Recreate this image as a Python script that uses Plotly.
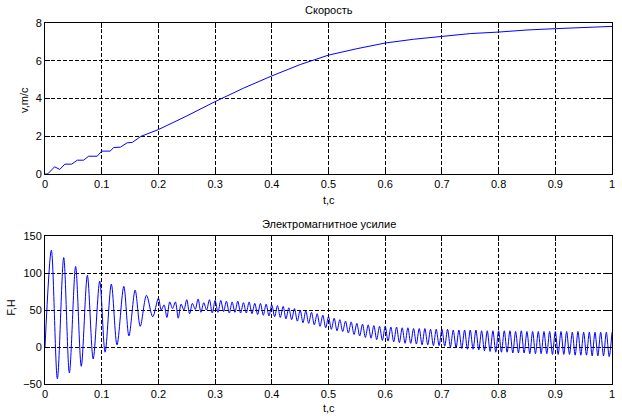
import numpy as np
import plotly.graph_objects as go

# ---------------- data ----------------
vel_t = [0, 0.005, 0.017, 0.026, 0.035, 0.047, 0.057, 0.068, 0.077, 0.092, 0.1, 0.115,
         0.121, 0.133, 0.145, 0.154, 0.169, 0.2, 0.25, 0.3, 0.35, 0.4, 0.45, 0.5, 0.55,
         0.6, 0.65, 0.7, 0.75, 0.8, 0.85, 0.9, 0.95, 1.0]
vel = [0, 0.02, 0.39, 0.25, 0.53, 0.53, 0.74, 0.74, 0.95, 0.95, 1.22, 1.22,
       1.41, 1.43, 1.66, 1.68, 2.0, 2.36, 3.08, 3.84, 4.55, 5.2, 5.8, 6.3, 6.64,
       6.94, 7.14, 7.3, 7.44, 7.52, 7.63, 7.7, 7.77, 7.82]

# decaying transient: extrema up to 0.2 s
force_t_early = [0, 0.0112, 0.0218, 0.033, 0.043, 0.054, 0.064, 0.0747, 0.085, 0.0965,
                 0.106, 0.117, 0.127, 0.139, 0.148, 0.159, 0.168, 0.179, 0.19, 0.2]
force_early = [0, 131, -43, 121, -35, 109, -26, 97, -16, 89,
               -7, 85, 3, 82, 15, 77, 28, 70, 41, 66]

# 100 Hz ripple after 0.2 s: troughs at 0.205..0.995, peaks at 0.21..1.00
ripple_start = 0.2
ripple_period = 0.01
ripple_troughs = [50, 40, 52, 39, 50, 45, 51, 47, 50, 46,
                  47, 48, 46, 47, 46, 46, 45, 44, 43, 42,
                  41, 40, 38, 37, 35, 33, 32, 30, 28, 26,
                  24, 22, 21, 19, 17, 15, 13, 12, 10, 9,
                  8, 7, 6, 5, 5, 4, 3, 3, 2, 2,
                  1, 0, -1, -2, -3, -3, -4, -5, -6, -7,
                  -7, -7, -8, -8, -8, -9, -9, -9, -9, -10,
                  -10, -10, -10, -11, -11, -11, -12, -12, -12, -13]
ripple_peaks = [57, 61, 61, 58, 64, 59, 65, 60, 64, 63,
                63, 62, 61, 62, 60, 61, 59, 59, 58, 57,
                56, 55, 53, 52, 50, 49, 47, 45, 43, 41,
                39, 37, 35, 34, 32, 31, 30, 29, 28, 28,
                27, 27, 26, 26, 25, 25, 25, 24, 24, 24,
                24, 23, 23, 23, 23, 23, 22, 22, 22, 22,
                22, 22, 21, 22, 21, 21, 21, 21, 21, 21,
                21, 21, 20, 21, 20, 20, 20, 20, 20, 20]

x_ticks = [0, 0.1, 0.2, 0.3, 0.4, 0.5, 0.6, 0.7, 0.8, 0.9, 1.0]
x_ticktext = ["0", "0.1", "0.2", "0.3", "0.4", "0.5", "0.6", "0.7", "0.8", "0.9", "1"]
v_ticks = [0, 2, 4, 6, 8]
f_ticks = [-50, 0, 50, 100, 150]

# ---------------- build force series ----------------
ft = list(force_t_early)
fv = list(force_early)
for k in range(len(ripple_peaks)):
    ft.append(ripple_start + ripple_period * (k + 0.5))
    fv.append(ripple_troughs[k])
    ft.append(ripple_start + ripple_period * (k + 1))
    fv.append(ripple_peaks[k])

# ---------------- layout geometry ----------------
W, H = 622, 419
L, R, T, B = 45.3, 612.3, 22.7, 384.0
top_bottom_px = 174.0
bot_top_px = 236.0
ph = B - T


def px(x):
    return (x - L) / (R - L)


def py(y):
    return (B - y) / ph


blue = "rgb(0,0,255)"
fig = go.Figure()
fig.add_trace(go.Scatter(x=vel_t, y=vel, mode="lines", line=dict(color=blue, width=1),
                         xaxis="x", yaxis="y", showlegend=False))
fig.add_trace(go.Scatter(x=ft, y=fv, mode="lines", line=dict(color=blue, width=1, shape="spline", smoothing=0.9),
                         xaxis="x2", yaxis="y2", showlegend=False))

font = dict(family="Liberation Sans, Arial, sans-serif", size=11, color="black")
common = dict(showline=True, linecolor="black", linewidth=1, mirror="ticks",
              ticks="inside", ticklen=5, tickcolor="black", tickwidth=1,
              showgrid=True, gridcolor="black", gridwidth=1, griddash="4px,2px",
              zeroline=False, tickfont=font, automargin=False)

fig.update_layout(
    width=W, height=H,
    margin=dict(l=L, r=W - R, t=T, b=H - B, pad=0, autoexpand=False),
    paper_bgcolor="white", plot_bgcolor="white",
    font=font,
    xaxis=dict(domain=[0, 1], anchor="y", range=[0, 1], tickvals=x_ticks, ticktext=x_ticktext, **common),
    yaxis=dict(domain=[py(top_bottom_px), 1], anchor="x", range=[0, 8], tickvals=v_ticks, **common),
    xaxis2=dict(domain=[0, 1], anchor="y2", range=[0, 1], tickvals=x_ticks, ticktext=x_ticktext, **common),
    yaxis2=dict(domain=[0, py(bot_top_px)], anchor="x2", range=[-50, 150], tickvals=f_ticks, **common),
)

ann = [
    ("Скорость", 328.8, 10, 0),
    ("t,c", 328.8, 200, 0),
    ("Электромагнитное усилие", 328.8, 224, 0),
    ("t,c", 328.8, 408, 0),
    ("v,m/c", 25, 100, -90),
    ("F,H", 11, 307, -90),
]
for text, x, y, ang in ann:
    fig.add_annotation(text=text, x=px(x), y=py(y), xref="paper", yref="paper",
                       showarrow=False, textangle=ang, font=font,
                       xanchor="center", yanchor="middle")

fig.write_html("out.html", config={"displayModeBar": False},
               post_script="document.body.style.margin='0';document.body.style.overflow='hidden';")
